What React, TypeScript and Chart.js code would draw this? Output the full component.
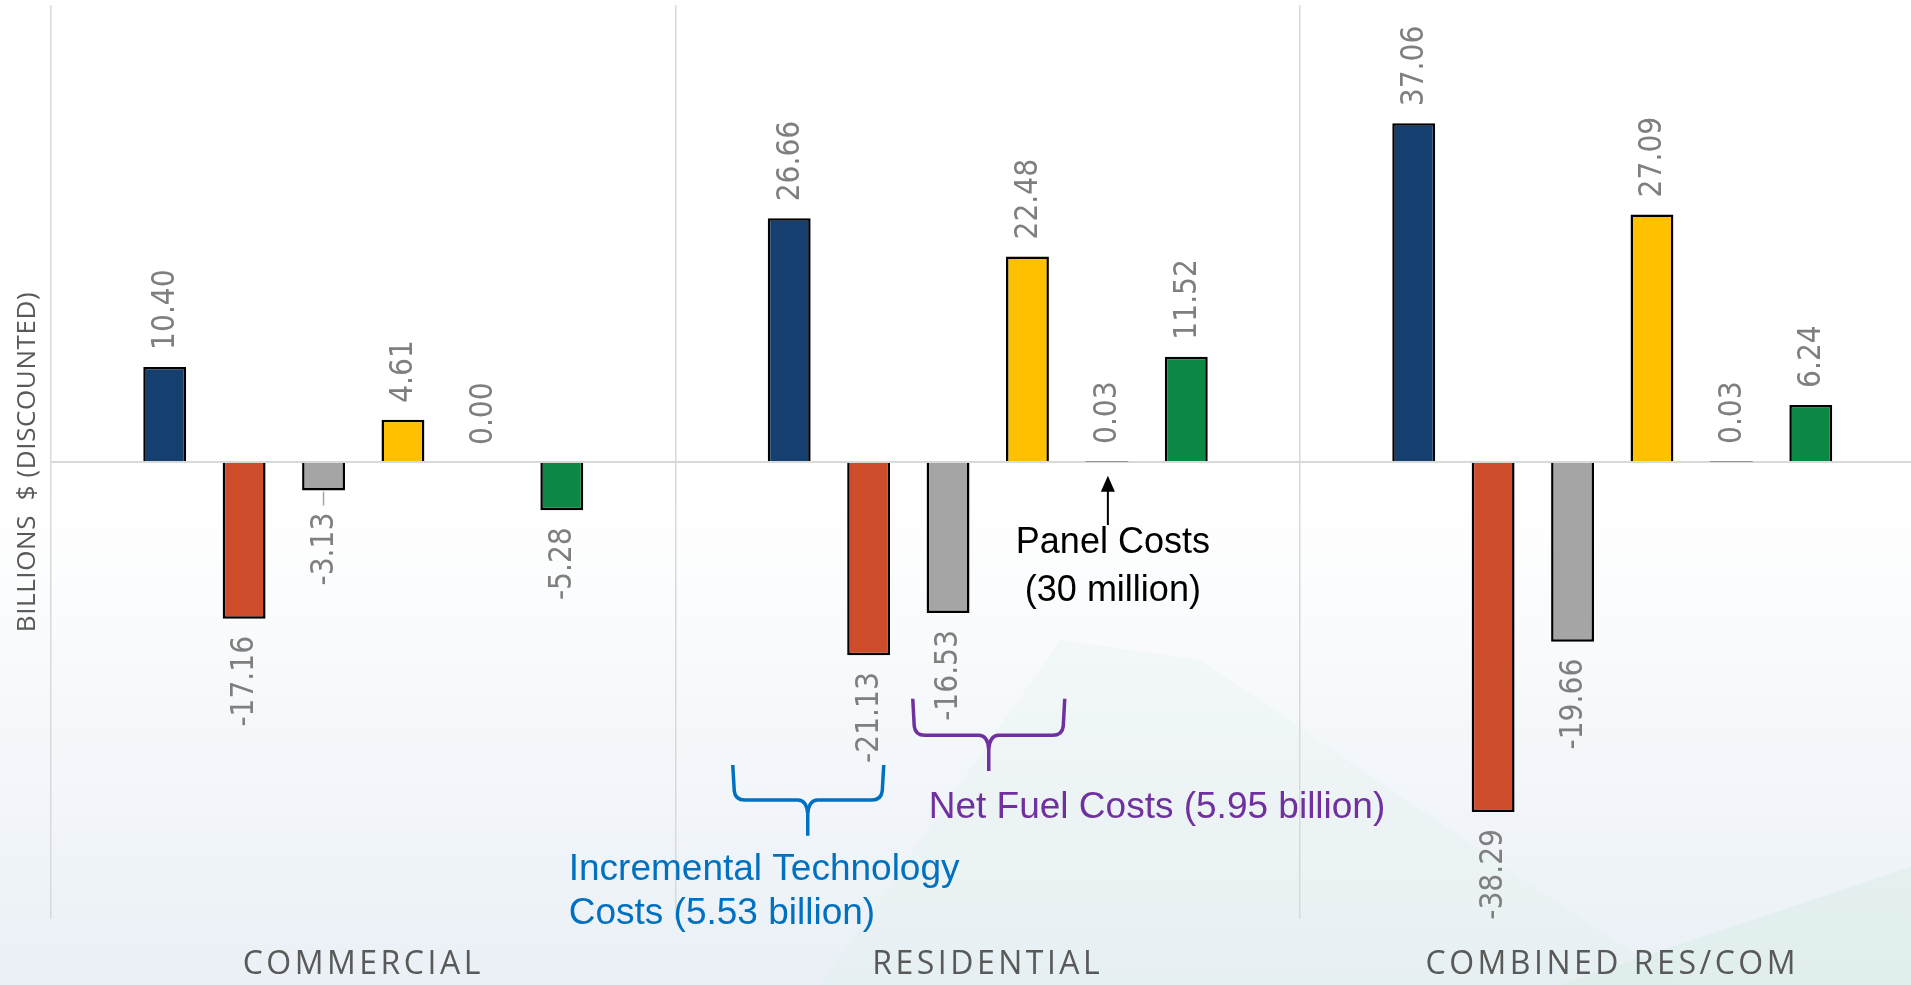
import React, { useEffect, useRef } from 'react';
import { Chart, registerables } from 'chart.js';

Chart.register(...registerables);

// ---------- data ----------
const categories = ['COMMERCIAL', 'RESIDENTIAL', 'COMBINED RES/COM'];

const technologyCosts = [10.4, 26.66, 37.06];
const avoidedTechnologyCosts = [-17.16, -21.13, -38.29];
const avoidedFuelCosts = [-3.13, -16.53, -19.66];
const fuelCosts = [4.61, 22.48, 27.09];
const panelCosts = [0.0, 0.03, 0.03];
const netCosts = [-5.28, 11.52, 6.24];

const seriesNames = [
  'Technology Costs',
  'Avoided Technology Costs',
  'Avoided Fuel Costs',
  'Fuel Costs',
  'Panel Costs',
  'Net Costs',
];
const seriesValues = [technologyCosts, avoidedTechnologyCosts, avoidedFuelCosts, fuelCosts, panelCosts, netCosts];
const seriesColors = ['#143F6E', '#CD4C29', '#A5A5A5', '#FFC000', '#7F7F7F', '#0C8744'];

const yAxisTitle = 'BILLIONS  $ (DISCOUNTED)';
const yMin = -50;
const yMax = 50;

// annotations
const panelNoteLines = ['Panel Costs', '(30 million)'];
const techNoteLines = ['Incremental Technology', 'Costs (5.53 billion)'];
const fuelNote = 'Net Fuel Costs (5.95 billion)';

// data label leader lines: [datasetIndex, categoryIndex]
const leaderLines: Array<[number, number]> = [[2, 0]];

function drawBrace(ctx: CanvasRenderingContext2D, x1: number, x2: number, xt: number, yTop: number, yMid: number, yTip: number, color: string) {
  ctx.save();
  ctx.strokeStyle = color;
  ctx.lineWidth = 3.5;
  ctx.lineJoin = 'round';
  ctx.beginPath();
  ctx.moveTo(x1, yTop);
  ctx.lineTo(x1 + 1.5, yMid - 9);
  ctx.quadraticCurveTo(x1 + 2.5, yMid, x1 + 12, yMid);
  ctx.lineTo(xt - 10, yMid);
  ctx.quadraticCurveTo(xt - 1, yMid, xt, yMid + 14);
  ctx.lineTo(xt, yTip);
  ctx.moveTo(x2, yTop);
  ctx.lineTo(x2 - 1.5, yMid - 9);
  ctx.quadraticCurveTo(x2 - 2.5, yMid, x2 - 12, yMid);
  ctx.lineTo(xt + 10, yMid);
  ctx.quadraticCurveTo(xt + 1, yMid, xt, yMid + 14);
  ctx.stroke();
  ctx.restore();
}

const backgroundPlugin = {
  id: 'bgPlugin',
  beforeDraw(chart: any) {
    const ctx: CanvasRenderingContext2D = chart.ctx;
    const w = chart.width;
    const h = chart.height;
    ctx.save();
    const g = ctx.createLinearGradient(0, 0, 0, h);
    g.addColorStop(0, '#FFFFFF');
    g.addColorStop(0.5, '#FFFFFF');
    g.addColorStop(1, '#EAF0F6');
    ctx.fillStyle = g;
    ctx.fillRect(0, 0, w, h);
    // soft mint shapes, lower right
    ctx.fillStyle = 'rgba(215, 238, 228, 0.18)';
    ctx.beginPath();
    ctx.moveTo(820, h);
    ctx.lineTo(1060, 640);
    ctx.lineTo(1200, 660);
    ctx.lineTo(1680, h);
    ctx.closePath();
    ctx.fill();
    ctx.fillStyle = 'rgba(210, 236, 224, 0.35)';
    ctx.beginPath();
    ctx.moveTo(1560, h);
    ctx.lineTo(w, 860);
    ctx.lineTo(w, h);
    ctx.closePath();
    ctx.fill();
    ctx.restore();
    (ctx as any).letterSpacing = '0.6px';
  },
};

const labelsPlugin = {
  id: 'labelsPlugin',
  afterDatasetsDraw(chart: any) {
    const ctx: CanvasRenderingContext2D = chart.ctx;
    (ctx as any).letterSpacing = '0px';
    const gap = 17;
    chart.data.datasets.forEach((ds: any, di: number) => {
      const meta = chart.getDatasetMeta(di);
      meta.data.forEach((el: any, i: number) => {
        const v = ds.data[i] as number;
        const hasLeader = leaderLines.some(([a, b]) => a === di && b === i);
        ctx.save();
        ctx.fillStyle = '#7F7F7F';
        ctx.font = '32px "DejaVu Sans"';
        ctx.textBaseline = 'middle';
        let anchorY: number;
        if (v >= 0) {
          anchorY = Math.min(el.y, el.base) - gap;
          ctx.textAlign = 'left';
        } else {
          const end = Math.max(el.y, el.base);
          anchorY = end + gap + (hasLeader ? 5 : 0);
          ctx.textAlign = 'right';
          if (hasLeader) {
            ctx.strokeStyle = '#A6A6A6';
            ctx.lineWidth = 1.5;
            ctx.beginPath();
            ctx.moveTo(el.x, end + 1);
            ctx.lineTo(el.x, end + 15);
            ctx.stroke();
          }
        }
        ctx.translate(el.x + 1, anchorY);
        ctx.rotate(-Math.PI / 2);
        ctx.scale(0.88, 1);
        ctx.fillText(v.toFixed(2), 0, 0);
        ctx.restore();
      });
    });
  },
};

const annotationPlugin = {
  id: 'annotationPlugin',
  afterDatasetsDraw(chart: any) {
    const ctx: CanvasRenderingContext2D = chart.ctx;
    const xs = chart.scales.x;
    const ys = chart.scales.y;
    const cx = xs.getPixelForValue(1);
    const py = (v: number) => ys.getPixelForValue(v);

    // Technology brace
    drawBrace(ctx, cx - 255, cx - 104, cx - 180, py(-33.15), py(-36.98), py(-40.9), '#0070C0');
    // Fuel brace
    drawBrace(ctx, cx - 75, cx + 77, cx + 1, py(-25.9), py(-29.9), py(-33.8), '#7030A0');

    ctx.save();
    (ctx as any).letterSpacing = '0px';
    ctx.font = '37px "Liberation Sans", Arial, sans-serif';
    ctx.textBaseline = 'middle';
    ctx.textAlign = 'left';
    ctx.fillStyle = '#0070C0';
    ctx.fillText(techNoteLines[0], cx - 419, py(-44.6));
    ctx.fillText(techNoteLines[1], cx - 419, py(-49.4));
    ctx.fillStyle = '#7030A0';
    ctx.fillText(fuelNote, cx - 59, py(-37.85));

    // Panel arrow
    const panelBar = chart.getDatasetMeta(4).data[1];
    const ax = panelBar.x + 1;
    const tipY = py(-1.5);
    const baseY = py(-6.9);
    ctx.strokeStyle = '#000000';
    ctx.fillStyle = '#000000';
    ctx.lineWidth = 2;
    ctx.beginPath();
    ctx.moveTo(ax, tipY + 10);
    ctx.lineTo(ax, baseY);
    ctx.stroke();
    ctx.beginPath();
    ctx.moveTo(ax, tipY);
    ctx.lineTo(ax - 7, tipY + 16);
    ctx.lineTo(ax + 7, tipY + 16);
    ctx.closePath();
    ctx.fill();

    ctx.textAlign = 'center';
    ctx.font = '36px "Liberation Sans", Arial, sans-serif';
    ctx.fillText(panelNoteLines[0], ax + 5, py(-8.9));
    ctx.fillText(panelNoteLines[1], ax + 5, py(-14.1));
    ctx.restore();

    // spacing for the category labels drawn next
    (ctx as any).letterSpacing = '3.5px';
  },
  afterDraw(chart: any) {
    (chart.ctx as any).letterSpacing = '0px';
  },
};

export default function App() {
  const canvasRef = useRef<HTMLCanvasElement | null>(null);

  useEffect(() => {
    if (!canvasRef.current) return;
    const chart = new Chart(canvasRef.current, {
      type: 'bar',
      data: {
        labels: categories,
        datasets: seriesValues.map((vals, i) => ({
          label: seriesNames[i],
          data: vals,
          backgroundColor: seriesColors[i],
          borderColor: i === 4 ? 'rgba(0,0,0,0)' : '#000000',
          borderWidth: i === 4 ? 0 : 2.5,
          categoryPercentage: 0.763,
          barPercentage: 0.54,
        })),
      },
      options: {
        responsive: false,
        animation: false,
        devicePixelRatio: 1,
        layout: { padding: { left: 0, top: 5, right: 5.5, bottom: 0 } },
        plugins: {
          legend: { display: false },
          tooltip: { enabled: false },
          title: { display: false },
        },
        scales: {
          x: {
            grid: {
              display: true,
              offset: true,
              color: '#D9D9D9',
              lineWidth: 1.5,
              drawTicks: false,
            },
            border: { display: false },
            ticks: {
              z: 1,
              color: '#595959',
              padding: 27,
              font: { family: '"Open Sans"', size: 32 },
            },
            afterFit: (scale: any) => {
              scale.height = 66;
            },
          },
          y: {
            min: yMin,
            max: yMax,
            ticks: { display: false, stepSize: 50 },
            grid: {
              drawTicks: false,
              color: (c: any) => (c.tick && c.tick.value === 0 ? '#D9D9D9' : 'rgba(0,0,0,0)'),
              lineWidth: 2,
            },
            border: { display: false },
            title: {
              display: true,
              text: yAxisTitle,
              color: '#595959',
              font: { family: '"Open Sans"', size: 26 },
              padding: { top: 12, bottom: 0 },
            },
            afterFit: (scale: any) => {
              scale.width = 51;
            },
          },
        },
      },
      plugins: [backgroundPlugin, labelsPlugin, annotationPlugin],
    } as any);
    return () => chart.destroy();
  }, []);

  return (
    <div style={{ position: 'fixed', left: 0, top: 0, width: 1911, height: 985, overflow: 'hidden', background: '#ffffff' }}>
      <canvas ref={canvasRef} width={1930} height={985} style={{ display: 'block', width: 1930, height: 985 }} />
    </div>
  );
}
